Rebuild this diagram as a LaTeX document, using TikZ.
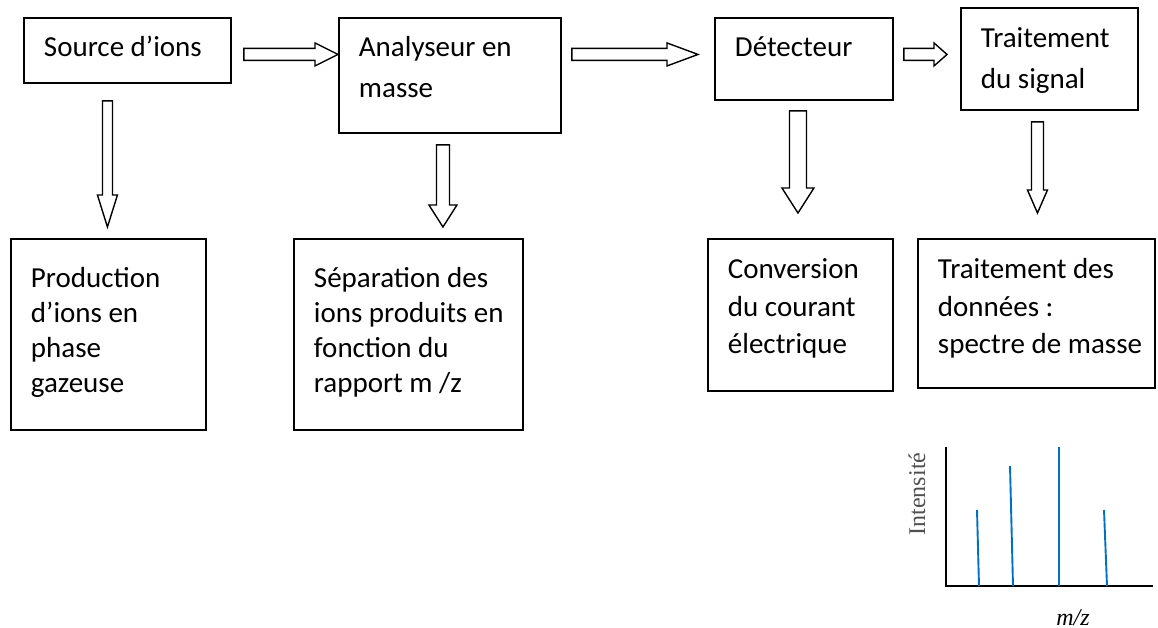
\documentclass[tikz,border=0pt]{standalone}
\usepackage{fontspec}
\setmainfont{Carlito}
\newfontfamily\plotfont{Liberation Serif}
\usetikzlibrary{calc}
\definecolor{peakblue}{HTML}{0070C0}
\definecolor{axisgray}{HTML}{505050}

% text of a block: width, height, first baseline, lines
\newcommand{\cell}[4]{\parbox[t][#2][t]{#1}{\leftskip=20pt\rule{0pt}{#3}#4}}

% hollow block arrow between two points
\tikzset{
  arr shaft/.store in=\arrshaft, arr head/.store in=\arrhead, arr len/.store in=\arrlen,
  arr shaft=6, arr head=11.5, arr len=24
}
\newcommand{\hollow}[3][]{%
  \draw[hollow arrow,#1] let \p1=(#2), \p2=(#3),
      \n1={atan2(\y2-\y1,\x2-\x1)}, \n2={veclen(\x2-\x1,\y2-\y1)} in
    [shift={(\p1)}, rotate=\n1]
    (0pt,\arrshaft pt) -- ({\n2-\arrlen pt},\arrshaft pt) -- ({\n2-\arrlen pt},\arrhead pt)
    -- ({\n2+0pt},0pt) -- ({\n2-\arrlen pt},-\arrhead pt) -- ({\n2-\arrlen pt},-\arrshaft pt)
    -- (0pt,-\arrshaft pt) -- cycle;}

\begin{document}
\begin{tikzpicture}[x=1pt, y=-1pt,
  stagebox/.style={draw, line width=1.9pt, inner sep=0pt, anchor=north west},
  stage/.style={stagebox, font=\fontsize{29}{41}\selectfont},
  task/.style={stagebox, font=\fontsize{29}{37.5}\selectfont},
  hollow arrow/.style={draw, line width=1.4pt, fill=white},
  peak/.style={peakblue, line width=1.9pt}
]
  \useasboundingbox (0,0) rectangle (1158,628);

  % instrument chain
  \node[stage] (src) at (23,17)  {\cell{207pt}{65pt}{39pt}{Source d’ions}};
  \node[stage] (ana) at (338,17) {\cell{222pt}{115pt}{39pt}{Analyseur en\\masse}};
  \node[stage] (det) at (714,17) {\cell{178pt}{82pt}{39pt}{Détecteur}};
  \node[stage] (sig) at (960,7)  {\cell{177pt}{102pt}{40pt}{Traitement\\du signal}};

  % what each stage does
  \node[task, font=\fontsize{29}{35}\selectfont] (prod) at (10,238)
    {\cell{195pt}{191pt}{49pt}{Production\\d’ions en\\phase\\gazeuse}};
  \node[task, font=\fontsize{29}{35}\selectfont] (sep) at (293,238)
    {\cell{229pt}{191pt}{49pt}{Séparation des\\ions produits en\\fonction du\\rapport m /z}};
  \node[task] (conv) at (707,238) {\cell{185pt}{152pt}{40pt}{Conversion\\du courant\\électrique}};
  \node[task] (don) at (917,238)  {\cell{237pt}{149pt}{40pt}{Traitement des\\données :\\spectre de masse}};

  % horizontal arrows
  \coordinate (r1) at ([shift={(12,4)}]src.east);
  \hollow[arr len=23]{r1}{r1 -| ana.west}
  \hollow[arr len=31]{[xshift=10]ana.east |- r1}{[xshift=-16]det.west |- r1}
  \hollow[arr len=13]{[xshift=10]det.east |- r1}{[xshift=-13]sig.west |- r1}

  % vertical arrows
  \coordinate (d1) at ([shift={(-20,17)}]src.south);
  \coordinate (d2) at ([shift={(-7,11)}]ana.south);
  \coordinate (d3) at ([shift={(-6,10)}]det.south);
  \coordinate (d4) at ([shift={(-12,11)}]sig.south);
  \hollow[arr shaft=5, arr head=10, arr len=32]{d1}{[yshift=11]d1 |- prod.north}
  \hollow[arr shaft=6.5, arr head=14, arr len=22]{d2}{[yshift=11]d2 |- sep.north}
  \hollow[arr shaft=8.5, arr head=16, arr len=25]{d3}{[yshift=25]d3 |- conv.north}
  \hollow[arr shaft=6, arr head=10, arr len=23]{d4}{[yshift=25]d4 |- don.north}

  % small mass spectrum
  \draw[line width=2pt] (946,447) -- (946,586) -- (1153,586);
  \foreach \xa/\xb/\ytop in {977/979/510, 1010/1013/466, 1059/1059/447, 1104/1107/510}
    \draw[peak] (\xa,\ytop) -- (\xb,586);
  \node[rotate=90, text=axisgray, font=\plotfont\fontsize{24}{24}\selectfont] (ylab) at (917,494) {Intensité};
  \node[anchor=base, font=\plotfont\itshape\fontsize{24}{24}\selectfont] (xlab) at (1073,625) {m/z};
\end{tikzpicture}
\end{document}
